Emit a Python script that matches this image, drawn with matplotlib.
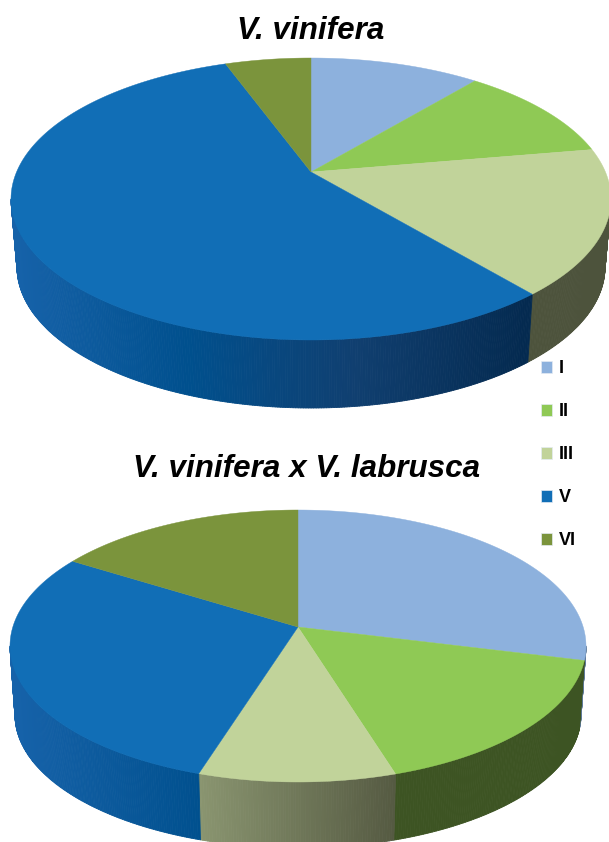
import numpy as np
import matplotlib
matplotlib.use("Agg")
import matplotlib.pyplot as plt
from matplotlib.collections import PolyCollection
from matplotlib.patches import Patch, Polygon
from matplotlib.colors import to_rgb

# Data (percent of each pie, clockwise from 12 o'clock)
classes = ["I", "II", "III", "V", "VI"]
vinifera = [9.2, 10.1, 17.5, 58.6, 4.6]
hybrid = [26.7, 17.8, 11.1, 30.1, 14.3]
titles = ["V. vinifera", "V. vinifera x V. labrusca"]

top_colors = ["#8DB1DD", "#8FC955", "#C1D39A", "#116EB6", "#7B943C"]
# wall shading of each slice from its left end to its right end of the drawing
wall_shades = {
    "I": ["#5F7A9A", "#5F7A9A"],
    "II": ["#3D5423", "#3D5423"],
    "III": ["#8A9570", "#555A42"],
    "V": ["#1662A9", "#00508E", "#103F70", "#042A50"],
    "VI": ["#4D5E28", "#4D5E28"],
}
iii_wall_top = ["#4D533C", "#4D533C"]

fig = plt.figure(figsize=(6.09, 8.42), dpi=100)
ax = fig.add_axes([0, 0, 1, 1])
ax.set_xlim(0, 609)
ax.set_ylim(842, 0)
ax.axis("off")


def ell(t, cx, cy, rx, ry):
    t = np.radians(t)
    return np.column_stack([cx + rx * np.sin(t), cy - ry * np.cos(t)])


def draw_pie(values, apex, top, bottom, shades, xspan):
    edges = np.concatenate([[0], np.cumsum(values)]) / np.sum(values) * 360
    # walls, only the front half (90..270) is visible
    for i, name in enumerate(classes):
        a, b = max(edges[i], 90), min(edges[i + 1], 270)
        if b <= a:
            continue
        ts = np.linspace(a, b, max(int((b - a) * 2), 2) + 1)
        up, lo = ell(ts, *top), ell(ts, *bottom)
        polys, cols = [], []
        stops = [to_rgb(c) for c in shades[name]]
        x0, x1 = up[:, 0].min(), up[:, 0].max()
        if name == "V":
            x0, x1 = xspan
        for j in range(len(ts) - 1):
            polys.append([up[j], up[j + 1], lo[j + 1], lo[j]])
            f = np.clip((0.5 * (up[j, 0] + up[j + 1, 0]) - x0) / max(x1 - x0, 1), 0, 1)
            grid = np.linspace(0, 1, len(stops))
            cols.append([np.interp(f, grid, [s[k] for s in stops]) for k in range(3)])
        ax.add_collection(PolyCollection(polys, facecolors=cols, edgecolors=cols, linewidths=0.6))
    # top faces
    for i in range(len(classes)):
        ts = np.linspace(edges[i], edges[i + 1], 200)
        pts = np.vstack([[apex], ell(ts, *top)])
        ax.add_patch(Polygon(pts, closed=True, facecolor=top_colors[i],
                             edgecolor=top_colors[i], linewidth=0.3))


shades_a = dict(wall_shades, III=iii_wall_top)
draw_pie(vinifera, (311, 172), (311, 199, 300, 141), (311, 267, 294, 141), shades_a, (15, 526))
shades_b = dict(wall_shades, V=["#1662A9", "#00508E"])
draw_pie(hybrid, (298, 627), (298, 646, 288, 136), (298, 715, 283, 133), shades_b, (15, 201))

title_font = dict(family="Liberation Sans", weight="bold", style="italic", color="black",
                  ha="center", va="baseline", fontsize=22.6)
ax.text(311, 39, titles[0], **title_font)
ax.text(307, 477, titles[1], **title_font)

handles = [Patch(facecolor=c, edgecolor="#E4EBF3", linewidth=0.5, label=n)
           for c, n in zip(top_colors, classes)]
ax.legend(handles=handles, loc="upper left", bbox_to_anchor=(534 / 609, 1 - 353 / 842),
          frameon=False, handlelength=0.62, handleheight=0.62, handletextpad=0.36,
          labelspacing=1.44, borderpad=0.4, borderaxespad=0,
          prop=dict(family="Liberation Sans", weight="bold", size=13))

fig.savefig("out.png", dpi=100)
